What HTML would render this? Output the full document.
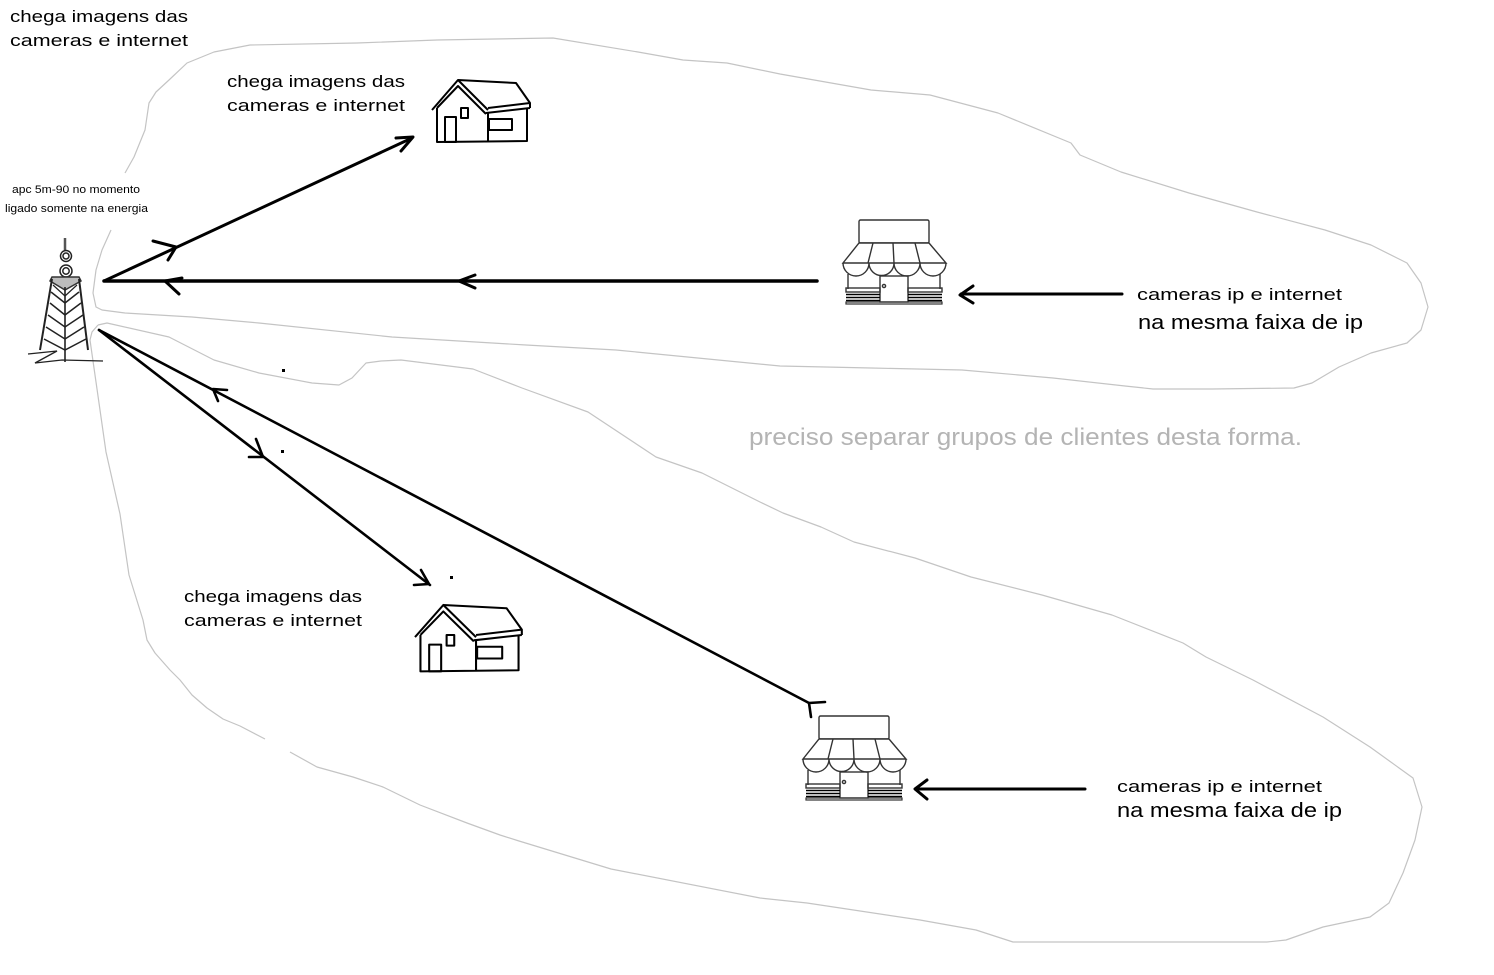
<!DOCTYPE html>
<html><head><meta charset="utf-8"><style>
html,body{margin:0;padding:0;background:#fff;}
svg{display:block;}
text{font-family:"Liberation Sans","DejaVu Sans",sans-serif;}
</style></head><body>
<svg width="1494" height="975" viewBox="0 0 1494 975" xmlns="http://www.w3.org/2000/svg">
<rect width="1494" height="975" fill="#fff"/>

<!-- gray contours -->
<g fill="none" stroke="#c4c4c4" stroke-width="1.2" stroke-linejoin="round">
<path d="M125,173 L134,157 L145,130 L149,103 L156,92 L169,80 L187,63 L214,52 L250,45 L357,43 L437,40 L553,38 L638,52 L683,60 L727,63 L780,74 L871,90 L930,95 L998,113 L1071,143 L1080,155 L1121,172 L1189,193 L1257,212 L1325,230 L1371,245 L1407,263 L1421,283 L1428,307 L1421,330 L1407,343 L1371,353 L1339,367 L1312,383 L1294,388 L1212,389 L1153,389 L1125,386 L1053,378 L962,370 L871,368 L780,366 L616,350 L526,345 L392,337 L259,323 L192,317 L125,313 L102,310 L96,307 L93,293 L96,270 L102,250 L111,230"/>
<path d="M98,325 L107,323 L169,337 L214,360 L259,373 L312,383 L339,385 L352,378 L366,363 L381,361 L401,360 L473,369 L522,388 L588,412 L656,457 L702,473 L760,502 L783,513 L821,527 L854,542 L915,558 L971,577 L1042,595 L1112,615 L1183,643 L1206,657 L1253,680 L1323,717 L1370,747 L1413,778 L1422,807 L1415,840 L1403,873 L1389,903 L1370,917 L1323,927 L1286,940 L1267,942 L1013,942 L976,930 L920,920 L807,903 L760,898 L611,869 L519,841 L500,835 L467,823 L420,805 L383,787 L353,777 L317,767 L290,752"/>
<path d="M265,739 L240,726 L223,719 L207,708 L192,695 L180,680 L170,670 L155,653 L147,640 L143,620 L129,575 L120,514 L106,452 L90,340 L92,332 L98,325"/>
</g>

<!-- tower -->
<g fill="none" stroke="#222" stroke-width="1.5">
<line x1="65" y1="238" x2="65" y2="250" stroke-width="2.5" stroke="#555"/>
<circle cx="66" cy="256" r="5.5"/><circle cx="66" cy="256" r="3"/>
<circle cx="66" cy="271" r="6"/><circle cx="66" cy="271" r="3.2"/>
<polygon points="52,277 79,277 81,281 65,290 50,281" fill="#bcbcbc" stroke="#333"/>
<line x1="52" y1="279" x2="40" y2="350" stroke-width="2"/>
<line x1="79" y1="279" x2="88" y2="350" stroke-width="2"/>
<line x1="65" y1="287" x2="65" y2="362" stroke-width="1.6"/>
<path d="M51,292 L65,303 L79,292 M50,303 L65,315 L81,303 M48,315 L65,327 L83,315 M46,327 L65,339 L84,327 M44,339 L65,350 L86,339"/>
<path d="M53,285 L65,296 L77,285" stroke-width="1.2"/>
<path d="M28,354 L57,351 L35,363 L62,360 L103,361" stroke-width="1.3"/>
</g>

<!-- houses -->
<g fill="none" stroke="#000" stroke-width="2" stroke-linejoin="round">
<path d="M432,110 L458,80 L488,110"/>
<path d="M437,108 L458,86 L486,114"/>
<path d="M458,80 L516,83 L530,103 L530,108"/>
<path d="M488,108 L530,103 M486,113 L530,108"/>
<path d="M437,108 L437,142 L527,141 L527,108 M488,113 L488,141"/>
<rect x="445" y="117" width="11" height="25"/>
<rect x="461" y="108" width="7" height="10"/>
<rect x="489" y="119" width="23" height="11"/>
</g>
<g transform="translate(415,605) scale(1.09,1.07) translate(-432,-80)" fill="none" stroke="#000" stroke-width="1.9" stroke-linejoin="round">
<path d="M432,110 L458,80 L488,110"/>
<path d="M437,108 L458,86 L486,114"/>
<path d="M458,80 L516,83 L530,103 L530,108"/>
<path d="M488,108 L530,103 M486,113 L530,108"/>
<path d="M437,108 L437,142 L527,141 L527,108 M488,113 L488,141"/>
<rect x="445" y="117" width="11" height="25"/>
<rect x="461" y="108" width="7" height="10"/>
<rect x="489" y="119" width="23" height="11"/>
</g>

<!-- stores -->
<g fill="none" stroke="#333" stroke-width="1.4">
<rect x="859" y="220" width="70" height="23" rx="1.5" fill="#fff"/>
<path d="M859,243 L929,243 L946,263 L843,263 Z" fill="#fff"/>
<path d="M873,243 L868,263 M893,243 L894,263 M915,243 L920,263"/>
<path d="M843,263 A13,13 0 0 0 869,263 A12.5,12.5 0 0 0 894,263 A13,13 0 0 0 920,263 A13,13 0 0 0 946,263"/>
<path d="M848,274 L848,289 M940,274 L940,289"/>
<rect x="880" y="276" width="28" height="26"/>
<circle cx="884" cy="286" r="1.6"/>
<rect x="846" y="288" width="34" height="4"/>
<rect x="908" y="288" width="34" height="4"/>
<path d="M846,294.5 L880,294.5 M846,297.5 L880,297.5 M846,300.5 L880,300.5 M908,294.5 L942,294.5 M908,297.5 L942,297.5 M908,300.5 L942,300.5" stroke="#000" stroke-width="1.6"/>
<rect x="846" y="302" width="96" height="2" stroke-width="1.2"/>
</g>
<g transform="translate(-40,496)" fill="none" stroke="#333" stroke-width="1.4">
<rect x="859" y="220" width="70" height="23" rx="1.5" fill="#fff"/>
<path d="M859,243 L929,243 L946,263 L843,263 Z" fill="#fff"/>
<path d="M873,243 L868,263 M893,243 L894,263 M915,243 L920,263"/>
<path d="M843,263 A13,13 0 0 0 869,263 A12.5,12.5 0 0 0 894,263 A13,13 0 0 0 920,263 A13,13 0 0 0 946,263"/>
<path d="M848,274 L848,289 M940,274 L940,289"/>
<rect x="880" y="276" width="28" height="26"/>
<circle cx="884" cy="286" r="1.6"/>
<rect x="846" y="288" width="34" height="4"/>
<rect x="908" y="288" width="34" height="4"/>
<path d="M846,294.5 L880,294.5 M846,297.5 L880,297.5 M846,300.5 L880,300.5 M908,294.5 L942,294.5 M908,297.5 L942,297.5 M908,300.5 L942,300.5" stroke="#000" stroke-width="1.6"/>
<rect x="846" y="302" width="96" height="2" stroke-width="1.2"/>
</g>

<!-- arrows -->
<g fill="none" stroke="#000" stroke-width="3" stroke-linecap="round" stroke-linejoin="round">
<path d="M104,281 L412,138"/>
<path d="M396,138 L413,137 L401,151"/>
<path d="M153,241 L176,247 L168,260"/>
<path d="M104,281 L817,281" stroke-width="3.5"/>
<path d="M182,278 L165,281 L179,294"/>
<path d="M475,275 L459,281 L475,288"/>
<path d="M1122,294 L961,294"/>
<path d="M973,286 L960,295 L973,303"/>
<path d="M1085,789 L916,789"/>
<path d="M927,780 L915,789 L927,799"/>
<path d="M99,330 L430,585" stroke-width="2.6"/>
<path d="M256,439 L263,457 L249,457" stroke-width="2.6"/>
<path d="M421,570 L429,584 L414,585" stroke-width="2.6"/>
<path d="M99,330 L809,703" stroke-width="2.6"/>
<path d="M227,390 L213,389 L218,401" stroke-width="2.6"/>
<path d="M809,703 L825,702 M809,703 L811,717" stroke-width="2.6"/>
</g>
<g fill="#000">
<rect x="282" y="369" width="3" height="3"/>
<rect x="281" y="450" width="3" height="3"/>
<rect x="450" y="576" width="3" height="3"/>
</g>

<!-- text -->
<g fill="#000">
<text x="10" y="22" font-size="17" textLength="178" lengthAdjust="spacingAndGlyphs">chega imagens das</text>
<text x="10" y="46" font-size="17" textLength="178" lengthAdjust="spacingAndGlyphs">cameras e internet</text>
<text x="227" y="87" font-size="17" textLength="178" lengthAdjust="spacingAndGlyphs">chega imagens das</text>
<text x="227" y="111" font-size="17" textLength="178" lengthAdjust="spacingAndGlyphs">cameras e internet</text>
<text x="184" y="602" font-size="17" textLength="178" lengthAdjust="spacingAndGlyphs">chega imagens das</text>
<text x="184" y="626" font-size="17" textLength="178" lengthAdjust="spacingAndGlyphs">cameras e internet</text>
<text x="12" y="193" font-size="11" textLength="128" lengthAdjust="spacingAndGlyphs">apc 5m-90 no momento</text>
<text x="5" y="212" font-size="11" textLength="143" lengthAdjust="spacingAndGlyphs">ligado somente na energia</text>
<text x="1137" y="300" font-size="17" textLength="205" lengthAdjust="spacingAndGlyphs">cameras ip e internet</text>
<text x="1138" y="329" font-size="20" textLength="225" lengthAdjust="spacingAndGlyphs">na mesma faixa de ip</text>
<text x="1117" y="792" font-size="17" textLength="205" lengthAdjust="spacingAndGlyphs">cameras ip e internet</text>
<text x="1117" y="817" font-size="20" textLength="225" lengthAdjust="spacingAndGlyphs">na mesma faixa de ip</text>
</g>
<text x="749" y="445" font-size="24" fill="#b4b4b4" textLength="553" lengthAdjust="spacingAndGlyphs">preciso separar grupos de clientes desta forma.</text>
</svg>
</body></html>
